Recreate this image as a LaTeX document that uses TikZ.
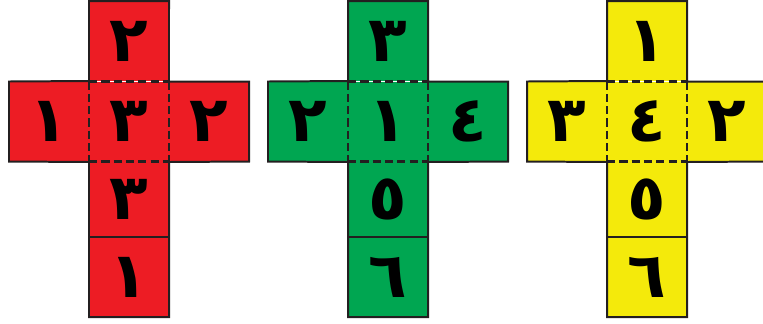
\documentclass[tikz,border=0pt]{standalone}
\usepackage{fontspec}
\usepackage{tikz}
\usetikzlibrary{positioning, calc}
\TeXXeTstate=1
\newfontfamily\arabicfont[Script=Arabic]{DejaVu Sans}
\definecolor{netred}{HTML}{ED1C24}
\definecolor{netgreen}{HTML}{00A651}
\definecolor{netyellow}{HTML}{F4EA0B}
\definecolor{netline}{HTML}{231F20}

\begin{document}
\begin{tikzpicture}[
    x=0.03cm, y=-0.03cm,
    face/.style={rectangle, fill=#1, inner sep=0pt, outer sep=0pt,
                 minimum width=2.4cm, minimum height=2.4cm,
                 font=\arabicfont\bfseries\fontsize{54}{54}\selectfont},
    edge/.style={line width=1.7pt, color=netline},
    fold/.style={line width=2.2pt, color=netline, dash pattern=on 7pt off 3.5pt},
]
\useasboundingbox (0,0) rectangle (763,323);

\foreach \n/\dx/\col/\t/\l/\c/\r/\d/\b in {
    red/0/netred/٢/١/٣/٢/٣/١,
    green/259/netgreen/٣/٢/١/٤/٥/٦,
    yellow/518/netyellow/١/٣/٤/٢/٥/٦}
{
  % the six faces of the net
  \node[face=\col] (\n-top)    at (129+\dx, 41)    {\beginR\t\endR};
  \node[face=\col] (\n-left)   at (49+\dx, 121.5)  {\beginR\l\endR};
  \node[face=\col] (\n-mid)    at (129+\dx, 121.5) {\beginR\c\endR};
  \node[face=\col] (\n-right)  at (209+\dx, 121.5) {\beginR\r\endR};
  \node[face=\col, minimum height=2.25cm] (\n-low) at (129+\dx, 199.5) {\beginR\d\endR};
  \node[face=\col] (\n-bot)    at (129+\dx, 277)   {\beginR\b\endR};

  % outline
  \draw[edge, line join=miter] (\n-top.north west) -- (\n-top.north east)
      -- (\n-right.north west) -- (\n-right.north east) -- (\n-right.south east)
      -- (\n-low.north east) -- (\n-bot.south east) -- (\n-bot.south west)
      -- (\n-low.north west) -- (\n-left.south west) -- (\n-left.north west)
      -- (\n-top.south west) -- cycle;
  \draw[edge] (\n-bot.north west) -- (\n-bot.north east);

  % fold lines
  \draw[fold] (\n-mid.north west) -- (\n-mid.north east);
  \draw[fold] (\n-mid.south west) -- (\n-mid.south east);
  \draw[fold] (\n-mid.north west) -- (\n-mid.south west);
  \draw[fold] (\n-mid.north east) -- (\n-mid.south east);
}
\end{tikzpicture}
\end{document}
